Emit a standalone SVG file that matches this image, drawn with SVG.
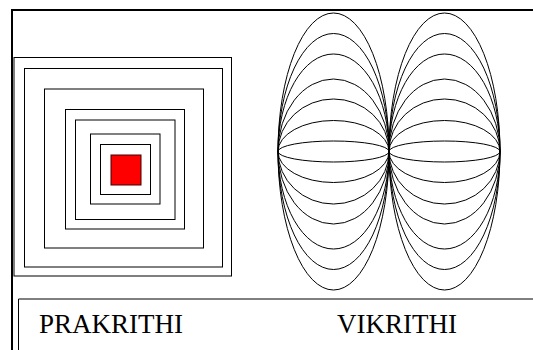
<svg xmlns="http://www.w3.org/2000/svg" width="533" height="350" viewBox="0 0 533 350">
<style>
.frame{fill:none;stroke:#000;stroke-width:2}
.sq{fill:none;stroke:#000;stroke-width:1}
.el{fill:none;stroke:#000;stroke-width:1}
.lbl{font-size:27px;fill:#000}
</style>
<rect width="533" height="350" fill="#fff"/>
<g id="frame">
<path class="frame" d="M12 350 V10 H533"/>
</g>
<g id="prakrithi">
<rect class="sq" x="14" y="57.5" width="217.5" height="218.5"/>
<rect class="sq" x="24.5" y="68.5" width="198" height="198.5"/>
<rect class="sq" x="44.5" y="89" width="159" height="159"/>
<rect class="sq" x="65.5" y="109.5" width="119" height="119.5"/>
<rect class="sq" x="75.5" y="120" width="99.5" height="99.5"/>
<rect class="sq" x="90.5" y="134" width="69.5" height="70"/>
<rect class="sq" x="100.5" y="144.5" width="50" height="50"/>
<rect x="111" y="155" width="30" height="30" fill="#ff0000" stroke="#400" stroke-width="1"/>
</g>
<g id="vikrithi">
<g transform="translate(333.5 151.5)">
<ellipse class="el" rx="55.5" ry="138.5"/>
<ellipse class="el" rx="55.5" ry="118"/>
<ellipse class="el" rx="55.5" ry="97.5"/>
<ellipse class="el" rx="55.5" ry="72.5"/>
<ellipse class="el" rx="55.5" ry="52.5"/>
<ellipse class="el" rx="55.5" ry="31"/>
<ellipse class="el" rx="55.5" ry="10.5"/>
</g>
<g transform="translate(444.5 151.5)">
<ellipse class="el" rx="55.5" ry="138.5"/>
<ellipse class="el" rx="55.5" ry="118"/>
<ellipse class="el" rx="55.5" ry="97.5"/>
<ellipse class="el" rx="55.5" ry="72.5"/>
<ellipse class="el" rx="55.5" ry="52.5"/>
<ellipse class="el" rx="55.5" ry="31"/>
<ellipse class="el" rx="55.5" ry="10.5"/>
</g>
</g>
<g id="labels">
<path d="M18.5 350 V299 H533" fill="none" stroke="#000" stroke-width="1"/>
<text class="lbl" x="39" y="333" font-family="'Liberation Serif', 'Times New Roman', serif">PRAKRITHI</text>
<text class="lbl" x="337" y="333" font-family="'Liberation Serif', 'Times New Roman', serif">VIKRITHI</text>
</g>
</svg>
